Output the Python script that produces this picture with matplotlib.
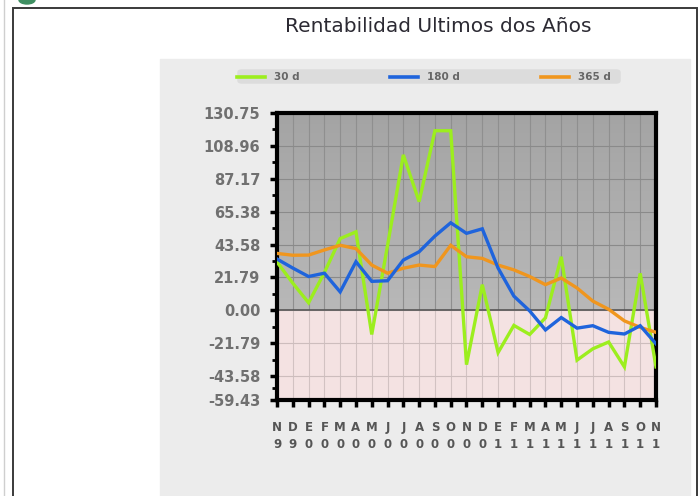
import numpy as np
import matplotlib
matplotlib.use("Agg")
import matplotlib.pyplot as plt
from matplotlib.patches import Rectangle, FancyBboxPatch, Ellipse
from matplotlib.lines import Line2D

# month initials and year digit (Nov 2009 .. Nov 2011)
months = ['N', 'D', 'E', 'F', 'M', 'A', 'M', 'J', 'J', 'A', 'S', 'O',
          'N', 'D', 'E', 'F', 'M', 'A', 'M', 'J', 'J', 'A', 'S', 'O', 'N']
years = ['9', '9', '0', '0', '0', '0', '0', '0', '0', '0', '0', '0',
         '0', '0', '1', '1', '1', '1', '1', '1', '1', '1', '1', '1', '1']

# returns
r30 = [32, 18, 5, 25, 47.5, 52, -16, 43, 103, 72, 119, 119, -36,
       17, -28, -10, -16, -5, 35.5, -33, -25.5, -21, -37.5, 24.5, -37.5]
r180 = [34, 28, 22.4, 24.6, 12.2, 32.2, 19.2, 19.6, 33.3, 38.8, 49.2, 58, 51,
        54, 28, 9.4, -0.4, -13, -4.8, -11.8, -10.2, -14.6, -15.7, -10.2, -22.2]
r365 = [37.7, 36.5, 36.6, 40, 43.1, 40.9, 30, 24.6, 27.9, 30, 29, 43.1, 35.5,
        34.4, 30, 26.8, 22.4, 17, 21.4, 14.8, 6.1, 0.7, -7, -11.3, -14.6]

yticks = [130.75, 108.96, 87.17, 65.38, 43.58, 21.79, 0.00, -21.79, -43.58, -59.43]
series = [('30 d', r30, '#9cee1e'), ('365 d', r365, '#f0961e'), ('180 d', r180, '#1f64dc')]

W, H = 700, 496


def fx(px):
    return px / W


def fy(py):
    return 1 - py / H


fig = plt.figure(figsize=(7, 4.96), dpi=100)
fig.patch.set_facecolor('white')

# outer frame, grey panel, little icon
fig.add_artist(Rectangle((fx(13), fy(520)), fx(697) - fx(13), fy(8) - fy(520),
                         transform=fig.transFigure, fill=False, ec='#3a3a3a', lw=1.4, zorder=-2))
fig.add_artist(Line2D([fx(4), fx(4)], [0, 1], color='#cfcfcf', lw=1, zorder=-2))
fig.add_artist(Rectangle((fx(160), 0), fx(690) - fx(160), fy(59),
                         transform=fig.transFigure, color='#ececec', zorder=-1))
fig.add_artist(Ellipse((fx(27), fy(0)), fx(16), 8 / H,
                       transform=fig.transFigure, color='#3f8f62', zorder=-1))

fig.text(fx(438), fy(26), 'Rentabilidad Ultimos dos Años', ha='center', va='center',
         fontsize=14.5, color='#2c2a33')

# legend band
fig.add_artist(FancyBboxPatch((fx(238), fy(83)), fx(620) - fx(238), fy(70) - fy(83),
                              boxstyle='round,pad=0,rounding_size=0.005',
                              transform=fig.transFigure, color='#dcdcdc', zorder=0))
leg = [('30 d', '#9cee1e', 237), ('180 d', '#1f64dc', 390), ('365 d', '#f0961e', 541)]
for name, col, x0 in leg:
    fig.add_artist(Line2D([fx(x0), fx(x0 + 28)], [fy(76.5), fy(76.5)], color=col, lw=2.6, zorder=1))
    fig.text(fx(x0 + 37), fy(76.5), name, ha='left', va='center', fontsize=7.5,
             fontweight='bold', color='#666666')

ax = fig.add_axes([fx(277), fy(400), fx(656) - fx(277), fy(113) - fy(400)])
ax.set_zorder(2)
ymin, ymax = -59.43, 130.75
ax.set_xlim(0, 24)
ax.set_ylim(ymin, ymax)

# background: grey gradient above zero, light pink below
grad = np.linspace(0, 1, 100).reshape(-1, 1)
cm = matplotlib.colors.LinearSegmentedColormap.from_list('g', ['#b8b8b8', '#a4a4a4'])
ax.imshow(grad, cmap=cm, extent=[0, 24, 0, ymax], origin='lower', aspect='auto', zorder=0)
ax.axhspan(ymin, 0, color='#f4e2e2', zorder=0)

# grid
x = np.arange(len(months))
for xi in x[1:-1]:
    ax.plot([xi, xi], [0, ymax], color='#8f8f8f', lw=0.8, zorder=1)
    ax.plot([xi, xi], [ymin, 0], color='#d2c2c2', lw=0.8, zorder=1)
for yv in yticks[1:-1]:
    c = '#8a8a8a' if yv > 0 else '#cdbdbd'
    ax.axhline(yv, color=c, lw=0.8, zorder=1)
ax.axhline(0, color='#555555', lw=1.2, zorder=2)

for name, vals, col in series:
    ax.plot(x, vals, color=col, lw=2.4, zorder=3, solid_joinstyle='miter')

for s in ax.spines.values():
    s.set_linewidth(3)
    s.set_color('black')

ax.set_yticks(yticks)
ax.set_yticklabels([f'{v:.2f}' for v in yticks])
minor = [(a + b) / 2 for a, b in zip(yticks[:-1], yticks[1:])]
ax.set_yticks(minor, minor=True)
ax.set_xticks(x)
ax.set_xticklabels([f'{m}\n{y}' for m, y in zip(months, years)], linespacing=1.45)

ax.tick_params(axis='y', which='major', direction='out', length=5, width=2.5,
               pad=7, labelsize=10.5, labelcolor='#707070')
ax.tick_params(axis='y', which='minor', direction='out', length=3.5, width=2)
ax.tick_params(axis='x', direction='out', length=5, width=2.5, pad=10,
               labelsize=8.5, labelcolor='#555555')
for lab in ax.get_yticklabels() + ax.get_xticklabels():
    lab.set_fontweight('bold')

fig.savefig('out.png', dpi=100)
